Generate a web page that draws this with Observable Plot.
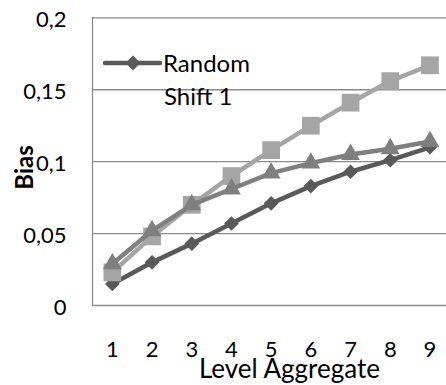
<!DOCTYPE html>
<html>
<head>
<meta charset="utf-8">
<script src="https://cdn.jsdelivr.net/npm/d3@7"></script>
<script src="https://cdn.jsdelivr.net/npm/@observablehq/plot@0.6"></script>
<style>
  html, body { margin: 0; padding: 0; background: #fff; }
  #wrap { position: relative; width: 446px; height: 385px; overflow: hidden; font-family: Lato, sans-serif; }
  #legend { position: absolute; left: 0; top: 0; pointer-events: none; }
  #legend .lbl { position: absolute; font-size: 24px; line-height: 1; color: #000; white-space: nowrap; }
</style>
</head>
<body>
<div id="wrap"></div>
<script>
// Aggregation levels on the x axis
const levels = [1, 2, 3, 4, 5, 6, 7, 8, 9];
// Bias per level for each series
const randomShift1 = [0.015, 0.030, 0.043, 0.057, 0.071, 0.083, 0.093, 0.101, 0.110];
const squareSeries = [0.023, 0.048, 0.070, 0.090, 0.108, 0.125, 0.141, 0.156, 0.167];
const triangleSeries = [0.029, 0.052, 0.070, 0.081, 0.092, 0.099, 0.105, 0.109, 0.114];
// Y axis ticks
const yTicks = [0, 0.05, 0.1, 0.15, 0.2];
const legendLabel = "Random Shift 1";

const series = [
  {name: legendLabel, values: randomShift1, color: "#595959", symbol: "diamond2", r: 6.6},
  {name: "squares", values: squareSeries, color: "#a5a5a5", symbol: "square", r: 10},
  {name: "triangles", values: triangleSeries, color: "#7f7f7f", symbol: "triangle", r: 7}
];

const marks = [
  Plot.ruleY(yTicks, {stroke: "#8a8a8a", strokeWidth: 1.3}),
  Plot.ruleX([0.5], {stroke: "#8a8a8a", strokeWidth: 1.3}),
  Plot.axisY(yTicks, {
    tickSize: 0, tickPadding: 26, fontSize: 22, dy: 2,
    tickFormat: d => String(d).replace(".", ","), label: null
  }),
  Plot.axisX(levels, {tickSize: 0, tickPadding: 36, fontSize: 22, label: null, tickFormat: d => String(d)}),
  Plot.text(["Level Aggregate"], {frameAnchor: "bottom", lineAnchor: "top", dy: 54, dx: 20, fontSize: 26}),
  Plot.text(["Bias"], {frameAnchor: "left", textAnchor: "middle", rotate: -90, dx: -67, dy: 6, fontSize: 24, fontWeight: "bold"})
];

for (const s of series) {
  const rows = levels.map((lv, i) => ({level: lv, value: s.values[i]}));
  marks.push(Plot.line(rows, {x: "level", y: "value", stroke: s.color, strokeWidth: 4.5}));
  marks.push(Plot.dot(rows, {x: "level", y: "value", fill: s.color, stroke: "none", symbol: s.symbol, r: s.r}));
}

const chart = Plot.plot({
  width: 446,
  height: 385,
  marginLeft: 92,
  marginTop: 17,
  marginBottom: 80,
  marginRight: 0,
  style: {fontFamily: "Lato, sans-serif", color: "#000", background: "#fff", overflow: "hidden"},
  x: {type: "linear", domain: [0.5, 9.5], range: [92, 449.3]},
  y: {domain: [0, 0.2], range: [305, 17.3]},
  marks
});

const wrap = document.getElementById("wrap");
wrap.appendChild(chart);

// Legend: key line with diamond marker, label wrapped on two lines
const legend = document.createElement("div");
legend.id = "legend";
const words = legendLabel.split(" ");
legend.innerHTML = `
  <svg width="446" height="120" style="position:absolute;left:0;top:0">
    <line x1="105" x2="160" y1="63" y2="63" stroke="${series[0].color}" stroke-width="4.5" stroke-linecap="round"/>
    <path d="M133,55.5L140.5,63L133,70.5L125.5,63Z" fill="${series[0].color}"/>
  </svg>
  <div class="lbl" style="left:163px;top:51px">${words[0]}</div>
  <div class="lbl" style="left:164px;top:84px">${words.slice(1).join(" ")}</div>`;
wrap.appendChild(legend);
</script>
</body>
</html>
